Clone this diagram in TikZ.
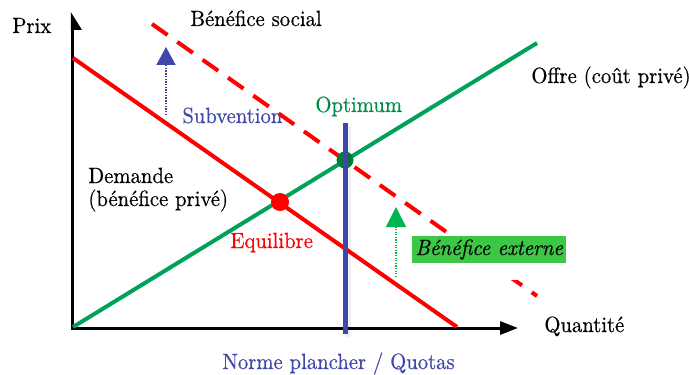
\documentclass[tikz,border=0pt]{standalone}
\usepackage{fontspec}
\setmainfont{Latin Modern Roman}[FakeBold=0.5, FakeStretch=0.94]
\usetikzlibrary{arrows.meta}
\definecolor{cred}{RGB}{255,0,0}
\definecolor{cgreen}{RGB}{0,162,90}
\definecolor{coptdot}{RGB}{0,125,60}
\definecolor{copttext}{RGB}{0,140,70}
\definecolor{cblue}{RGB}{63,72,170}
\definecolor{cbox}{RGB}{60,200,70}
\definecolor{ctri}{RGB}{0,180,80}
\tikzset{
  lbl/.style={anchor=base west, inner sep=0pt, font=\fontsize{11}{13}\selectfont},
  axisline/.style={line width=1.5pt, black},
  demand/.style={line width=2pt, cred},
  supply/.style={line width=2pt, cgreen},
  social/.style={line width=2pt, cred, dash pattern=on 9.5pt off 6pt},
  quota/.style={line width=2.5pt, cblue},
  dotpt/.style={circle, inner sep=0pt},
  subarrow/.style={cblue, line width=0.8pt, dash pattern=on 0.7pt off 0.65pt, -{Triangle[width=9.5pt,length=9pt]}},
  extarrow/.style={ctri, line width=0.7pt, dash pattern=on 0.6pt off 0.7pt, -{Triangle[width=10pt,length=10pt]}}
}
\begin{document}
\begin{tikzpicture}[x=0.5pt,y=-0.5pt]
\useasboundingbox (0,0) rectangle (689,374);
% named points
\coordinate (O) at (72.5,328);
\coordinate (ytop) at (72.5,30);
\coordinate (xend) at (505,328);
\coordinate (dA) at (73,58);
\coordinate (dB) at (457,327);
\coordinate (sA) at (73,327);
\coordinate (sB) at (537,43);
\coordinate (bA) at (152,24);
\coordinate (bB) at (537,296);
\coordinate (qA) at (345,123);
\coordinate (qB) at (345,334);
\coordinate (qAs) at (348,126);
\coordinate (qBs) at (348,337);
\coordinate (subA) at (166,115);
\coordinate (subB) at (166,47);
\coordinate (extA) at (396,277);
\coordinate (extB) at (396,207);
% axes
\draw[axisline] (ytop) -- (O) -- (xend);
\fill[black] (70.8,12) -- (70.8,30) -- (82,30) -- cycle;
\draw[axisline, -{Triangle[width=6.5pt,length=9pt]}] (O) -- (518,328);
% curves
\draw[social] (bA) -- (bB);
\fill[white] (410,236) rectangle (565,280);
\draw[demand] (dA) -- (dB);
\draw[supply] (sA) -- (sB);
% points
\node[dotpt, fill=cred, minimum size=9pt] (eq) at (280,202) {};
\node[dotpt, fill=coptdot, minimum size=8.5pt] (opt) at (345,160) {};
% quota line with soft shadow
\draw[line width=2.5pt, black, opacity=0.06] (qAs) -- (qBs);
\draw[quota] (qA) -- (qB);
% arrows
\draw[subarrow] (subA) -- (subB);
\draw[extarrow] (extA) -- (extB);
% labels
\node[lbl] (prix) at (12,33) {Prix};
\node[lbl] (bsoc) at (190,26) {Bénéfice social};
\node[lbl] (offre) at (531,83) {Offre (coût privé)};
\node[lbl, text=copttext] (optl) at (315,112) {Optimum};
\node[lbl, text=cblue] (subl) at (182,123) {Subvention};
\node[lbl] (dem1) at (88,183) {Demande};
\node[lbl] (dem2) at (88,206) {(bénéfice privé)};
\node[lbl, text=cred] (eql) at (230,248) {Equilibre};
\node[anchor=west, fill=cbox, inner xsep=1.5pt, inner ysep=1.5pt, minimum height=12.5pt, font=\fontsize{11}{13}\selectfont\itshape] (extl) at (412,249.5) {Bénéfice externe};
\node[lbl] (qty) at (544,332) {Quantité};
\node[lbl, text=cblue] (norme) at (222,369) {Norme plancher / Quotas};
\end{tikzpicture}
\end{document}
